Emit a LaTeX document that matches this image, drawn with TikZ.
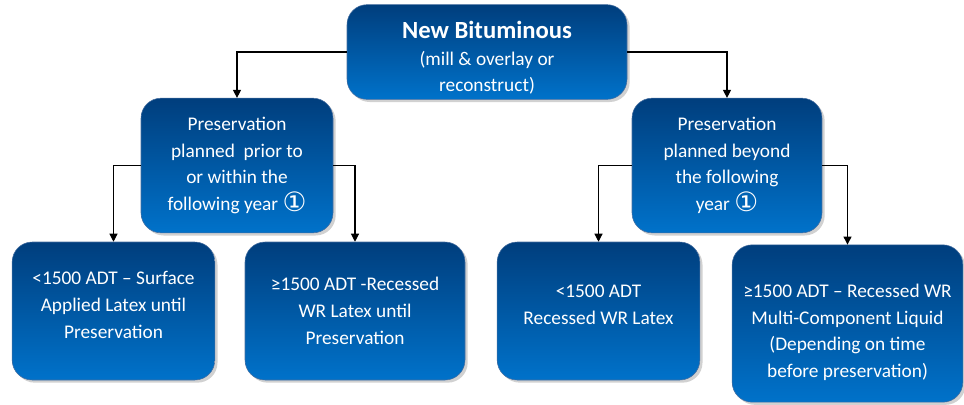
\documentclass[tikz,border=0pt]{standalone}
\usepackage{fontspec}
\setmainfont{Carlito}
\newfontfamily\symfont{DejaVu Sans}
\usetikzlibrary{arrows.meta,shadows}
\definecolor{boxtop}{RGB}{0,62,125}
\definecolor{boxbot}{RGB}{0,114,202}
\definecolor{boxedge}{RGB}{70,110,160}
\newcommand{\one}{\raisebox{-1pt}[0pt][0pt]{\symfont\fontsize{20}{20}\selectfont ①}}
\tikzset{
  box/.style={rounded corners=15pt, top color=boxtop, bottom color=boxbot,
    draw=boxedge, thin, text=white, align=center,
    font=\fontsize{14.5}{20}\selectfont,
    drop shadow={shadow xshift=2pt, shadow yshift=-2pt, opacity=0.3, fill=black!60},
    inner sep=0pt},
  link/.style={-{Triangle[length=6pt,width=6pt]}, thick, black}
}
\begin{document}
\begin{tikzpicture}[x=0.75pt,y=-0.75pt]
  \useasboundingbox (0,0) rectangle (964,404);
  % top
  \node[box, minimum width=210pt, minimum height=71pt] (newbit) at (487,52)
    {\mbox{}\\[2pt]{\bfseries\fontsize{18.5}{22}\selectfont New Bituminous}\\(mill \& overlay or\\reconstruct)};
  % middle row
  \node[box, minimum width=144pt, minimum height=101pt] (prior) at (237,165.5)
    {Preservation\\planned\ \ prior to\\or within the\\following year \one};
  \node[box, minimum width=142.5pt, minimum height=101pt] (beyond) at (727,165.5)
    {Preservation\\planned beyond\\the following\\year \one};
  % bottom row
  \node[box, minimum width=152pt, minimum height=103.5pt] (surf) at (113.5,311)
    {<1500 ADT -- Surface\\Applied Latex until\\Preservation\\[-11pt]};
  \node[box, minimum width=165pt, minimum height=103.5pt] (recess) at (355,311)
    {≥1500 ADT -Recessed\\WR Latex until\\Preservation};
  \node[box, minimum width=152pt, minimum height=103.5pt] (wrlatex) at (598.5,311)
    {<1500 ADT\\Recessed WR Latex\\[-11pt]};
  \node[box, minimum width=173pt, minimum height=118pt] (multi) at (847.5,323.5)
    {\mbox{}\\[3.5pt]≥1500 ADT -- Recessed WR\\Multi-Component Liquid\\(Depending on time\\before preservation)};
  % connectors
  \draw[link] (newbit.west) -| (prior.north);
  \draw[link] (newbit.east) -| (beyond.north);
  \draw[link] (prior.west) -| (surf.north);
  \draw[link] (prior.east) -| (recess.north);
  \draw[link] (beyond.west) -| (wrlatex.north);
  \draw[link] (beyond.east) -| (multi.north);
\end{tikzpicture}
\end{document}
